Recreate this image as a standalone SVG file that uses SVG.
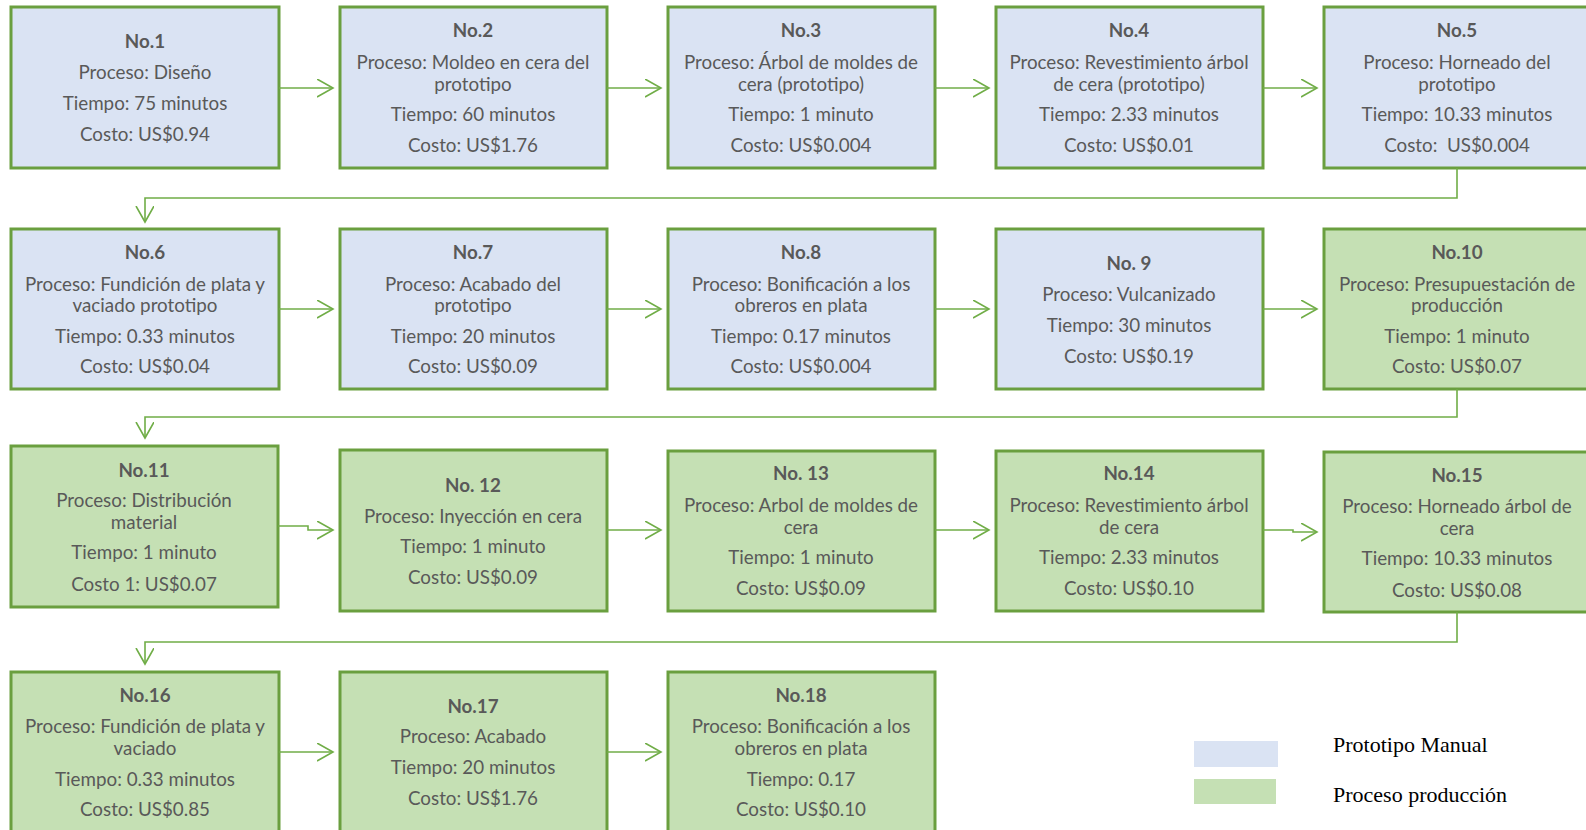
<svg xmlns="http://www.w3.org/2000/svg" width="1586" height="830" viewBox="0 0 1586 830">
  <style>
    .box { stroke: #6A9F3F; stroke-width: 3; }
    .proto { fill: #DAE3F3; }
    .prod { fill: #C5E0B4; }
    .node text { font-family: Lato, "Noto Sans", sans-serif; font-size: 18.8px; fill: #595959; text-anchor: middle; transform: translateY(1.5px); }
    .node .t { font-weight: bold; }
    .conn path { fill: none; stroke: #70AD47; stroke-width: 1.6; marker-end: url(#arrow); }
    .legend text { font-family: "Liberation Serif", serif; font-size: 22px; fill: #000; text-anchor: start; }
  </style>
  <defs>
    <marker id="arrow" markerUnits="userSpaceOnUse" markerWidth="20" markerHeight="20" refX="16" refY="9" orient="auto">
      <path d="M0,0 L16,9 L0,18" fill="none" stroke="#70AD47" stroke-width="1.6"/>
    </marker>
  </defs>
  <rect width="1586" height="830" fill="#fff"/>

  <!-- row 1 -->
  <g id="n1" class="node"><rect class="box proto" x="11" y="7" width="268" height="161"/>
    <text x="145" y="46" class="t">No.1</text><text x="145" y="77">Proceso: Diseño</text><text x="145" y="108">Tiempo: 75 minutos</text><text x="145" y="139">Costo: US$0.94</text></g>
  <g id="n2" class="node"><rect class="box proto" x="340" y="7" width="267" height="161"/>
    <text x="473" y="35" class="t">No.2</text><text x="473" y="67">Proceso: Moldeo en cera del</text><text x="473" y="89">prototipo</text><text x="473" y="119">Tiempo: 60 minutos</text><text x="473" y="150">Costo: US$1.76</text></g>
  <g id="n3" class="node"><rect class="box proto" x="668" y="7" width="267" height="161"/>
    <text x="801" y="35" class="t">No.3</text><text x="801" y="67">Proceso: Árbol de moldes de</text><text x="801" y="89">cera (prototipo)</text><text x="801" y="119">Tiempo: 1 minuto</text><text x="801" y="150">Costo: US$0.004</text></g>
  <g id="n4" class="node"><rect class="box proto" x="996" y="7" width="267" height="161"/>
    <text x="1129" y="35" class="t">No.4</text><text x="1129" y="67">Proceso: Revestimiento árbol</text><text x="1129" y="89">de cera (prototipo)</text><text x="1129" y="119">Tiempo: 2.33 minutos</text><text x="1129" y="150">Costo: US$0.01</text></g>
  <g id="n5" class="node"><rect class="box proto" x="1324" y="7" width="267" height="161"/>
    <text x="1457" y="35" class="t">No.5</text><text x="1457" y="67">Proceso: Horneado del</text><text x="1457" y="89">prototipo</text><text x="1457" y="119">Tiempo: 10.33 minutos</text><text x="1457" y="150" xml:space="preserve">Costo:  US$0.004</text></g>

  <!-- row 2 -->
  <g id="n6" class="node"><rect class="box proto" x="11" y="229" width="268" height="160"/>
    <text x="145" y="257" class="t">No.6</text><text x="145" y="289">Proceso: Fundición de plata y</text><text x="145" y="310">vaciado prototipo</text><text x="145" y="341">Tiempo: 0.33 minutos</text><text x="145" y="371">Costo: US$0.04</text></g>
  <g id="n7" class="node"><rect class="box proto" x="340" y="229" width="267" height="160"/>
    <text x="473" y="257" class="t">No.7</text><text x="473" y="289">Proceso: Acabado del</text><text x="473" y="310">prototipo</text><text x="473" y="341">Tiempo: 20 minutos</text><text x="473" y="371">Costo: US$0.09</text></g>
  <g id="n8" class="node"><rect class="box proto" x="668" y="229" width="267" height="160"/>
    <text x="801" y="257" class="t">No.8</text><text x="801" y="289">Proceso: Bonificación a los</text><text x="801" y="310">obreros en plata</text><text x="801" y="341">Tiempo: 0.17 minutos</text><text x="801" y="371">Costo: US$0.004</text></g>
  <g id="n9" class="node"><rect class="box proto" x="996" y="229" width="267" height="160"/>
    <text x="1129" y="268" class="t">No. 9</text><text x="1129" y="299">Proceso: Vulcanizado</text><text x="1129" y="330">Tiempo: 30 minutos</text><text x="1129" y="361">Costo: US$0.19</text></g>
  <g id="n10" class="node"><rect class="box prod" x="1324" y="229" width="267" height="160"/>
    <text x="1457" y="257" class="t">No.10</text><text x="1457" y="289">Proceso: Presupuestación de</text><text x="1457" y="310">producción</text><text x="1457" y="341">Tiempo: 1 minuto</text><text x="1457" y="371">Costo: US$0.07</text></g>

  <!-- row 3 -->
  <g id="n11" class="node"><rect class="box prod" x="11" y="446" width="267" height="161"/>
    <text x="144" y="475" class="t">No.11</text><text x="144" y="505">Proceso: Distribución</text><text x="144" y="527">material</text><text x="144" y="557">Tiempo: 1 minuto</text><text x="144" y="589">Costo 1: US$0.07</text></g>
  <g id="n12" class="node"><rect class="box prod" x="340" y="450" width="267" height="161"/>
    <text x="473" y="490" class="t">No. 12</text><text x="473" y="521">Proceso: Inyección en cera</text><text x="473" y="551">Tiempo: 1 minuto</text><text x="473" y="582">Costo: US$0.09</text></g>
  <g id="n13" class="node"><rect class="box prod" x="668" y="451" width="267" height="160"/>
    <text x="801" y="478" class="t">No. 13</text><text x="801" y="510">Proceso: Arbol de moldes de</text><text x="801" y="532">cera</text><text x="801" y="562">Tiempo: 1 minuto</text><text x="801" y="593">Costo: US$0.09</text></g>
  <g id="n14" class="node"><rect class="box prod" x="996" y="451" width="267" height="160"/>
    <text x="1129" y="478" class="t">No.14</text><text x="1129" y="510">Proceso: Revestimiento árbol</text><text x="1129" y="532">de cera</text><text x="1129" y="562">Tiempo: 2.33 minutos</text><text x="1129" y="593">Costo: US$0.10</text></g>
  <g id="n15" class="node"><rect class="box prod" x="1324" y="452" width="267" height="160"/>
    <text x="1457" y="480" class="t">No.15</text><text x="1457" y="511">Proceso: Horneado árbol de</text><text x="1457" y="533">cera</text><text x="1457" y="563">Tiempo: 10.33 minutos</text><text x="1457" y="595">Costo: US$0.08</text></g>

  <!-- row 4 -->
  <g id="n16" class="node"><rect class="box prod" x="11" y="672" width="268" height="170"/>
    <text x="145" y="700" class="t">No.16</text><text x="145" y="731">Proceso: Fundición de plata y</text><text x="145" y="753">vaciado</text><text x="145" y="784">Tiempo: 0.33 minutos</text><text x="145" y="814">Costo: US$0.85</text></g>
  <g id="n17" class="node"><rect class="box prod" x="340" y="672" width="267" height="170"/>
    <text x="473" y="711" class="t">No.17</text><text x="473" y="741">Proceso: Acabado</text><text x="473" y="772">Tiempo: 20 minutos</text><text x="473" y="803">Costo: US$1.76</text></g>
  <g id="n18" class="node"><rect class="box prod" x="668" y="672" width="267" height="170"/>
    <text x="801" y="700" class="t">No.18</text><text x="801" y="731">Proceso: Bonificación a los</text><text x="801" y="753">obreros en plata</text><text x="801" y="784">Tiempo: 0.17</text><text x="801" y="814">Costo: US$0.10</text></g>

  <!-- connectors -->
  <g id="connectors" class="conn">
    <path d="M279,88 H333"/><path d="M607,88 H661"/><path d="M935,88 H989"/><path d="M1263,88 H1317"/>
    <path d="M1457,168 V198 H145 V222"/>
    <path d="M279,309 H333"/><path d="M607,309 H661"/><path d="M935,309 H989"/><path d="M1263,309 H1317"/>
    <path d="M1457,389 V417 H145 V438"/>
    <path d="M278,526 H308 V530 H333"/><path d="M607,530 H661"/><path d="M935,530 H989"/><path d="M1263,530 H1293 V532 H1317"/>
    <path d="M1457,612 V642 H145 V664"/>
    <path d="M279,752 H333"/><path d="M607,752 H661"/>
  </g>

  <!-- legend -->
  <g id="legend" class="legend">
    <rect x="1194" y="741" width="84" height="26" fill="#DAE3F3"/>
    <rect x="1194" y="779" width="82" height="25" fill="#C5E0B4"/>
    <text x="1333" y="752">Prototipo Manual</text>
    <text x="1333" y="802">Proceso producción</text>
  </g>
</svg>
